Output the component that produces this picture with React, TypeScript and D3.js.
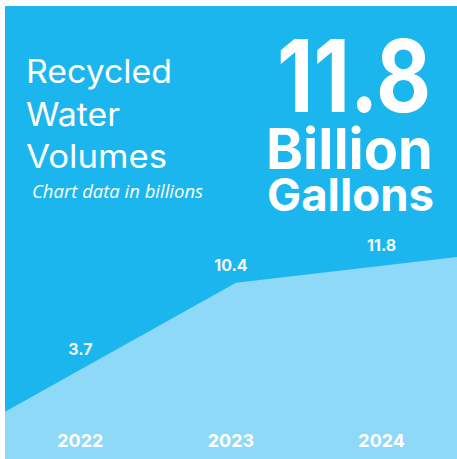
import React from "react";
import * as d3 from "d3";

const years = ["2022", "2023", "2024"];
const volumes = [3.7, 10.4, 11.8];
const valueLabels = ["3.7", "10.4", "11.8"];

const titleLines = ["Recycled", "Water", "Volumes"];
const titleWidths = [146, 94, 141];
const subtitle = "Chart data in billions";
const headline = "11.8";
const headlineUnits = ["Billion", "Gallons"];

const W = 457;
const H = 459;
const DARK = "#1cb6ee";
const LIGHT = "#8ed9f7";

export default function App() {
  const left = 5;
  const top = 6;

  const x = d3.scalePoint<string>().domain(years).range([left, 467]);
  const band = d3.scaleBand<string>().domain(years).range([left, W]).padding(0);
  const y = d3.scaleLinear().domain([0, 12]).range([483, 252]);

  const pts = years.map((yr, i) => ({ yr, v: volumes[i] }));
  const area = d3
    .area<{ yr: string; v: number }>()
    .x((d) => x(d.yr) as number)
    .y0(H)
    .y1((d) => y(d.v));

  const xs = years.map((yr) => x(yr) as number);
  const ys = volumes.map((v) => y(v));
  const lineAt = d3.scaleLinear().domain(xs).range(ys);

  const font = "Inter, 'Noto Sans', sans-serif";

  return (
    <svg
      width={W}
      height={H}
      style={{ position: "absolute", left: 0, top: 0, background: "#fff" }}
    >
      <defs>
        <clipPath id="panel">
          <rect x={left} y={top} width={W - left} height={H - top} />
        </clipPath>
      </defs>
      <rect x={left} y={top} width={W - left} height={H - top} fill={DARK} />
      <g clipPath="url(#panel)">
        <path d={area(pts) || ""} fill={LIGHT} />
      </g>

      {titleLines.map((t, i) => (
        <text
          key={t}
          x={26}
          y={83 + i * 42.5}
          fill="#fff"
          fontFamily={font}
          fontSize={32}
          fontWeight={400}
          textLength={titleWidths[i]}
          lengthAdjust="spacingAndGlyphs"
        >
          {t}
        </text>
      ))}
      <text
        x={32}
        y={198}
        fill="#fff"
        fontFamily="'Open Sans', sans-serif"
        fontStyle="italic"
        fontSize={17.5}
        textLength={171}
        lengthAdjust="spacingAndGlyphs"
      >
        {subtitle}
      </text>

      <text
        x={277}
        y={112}
        fill="#fff"
        fontFamily={font}
        fontWeight={700}
        fontSize={100}
        textLength={154}
        lengthAdjust="spacingAndGlyphs"
      >
        {headline}
      </text>
      <text
        x={266}
        y={169}
        fill="#fff"
        fontFamily={font}
        fontWeight={700}
        fontSize={56}
        textLength={167}
        lengthAdjust="spacingAndGlyphs"
      >
        {headlineUnits[0]}
      </text>
      <text
        x={267}
        y={211}
        fill="#fff"
        fontFamily={font}
        fontWeight={700}
        fontSize={45}
        textLength={167}
        lengthAdjust="spacingAndGlyphs"
      >
        {headlineUnits[1]}
      </text>

      {years.map((yr, i) => {
        const cx = (band(yr) as number) + band.bandwidth() / 2;
        return (
          <g key={yr}>
            <text
              x={cx}
              y={lineAt(cx) - 15}
              textAnchor="middle"
              fill="#f4f8fb"
              fontFamily={font}
              fontWeight={700}
              fontSize={16}
            >
              {valueLabels[i]}
            </text>
            <text
              x={cx}
              y={447}
              textAnchor="middle"
              fill="#fff"
              fontFamily={font}
              fontWeight={700}
              fontSize={18}
            >
              {yr}
            </text>
          </g>
        );
      })}
    </svg>
  );
}
